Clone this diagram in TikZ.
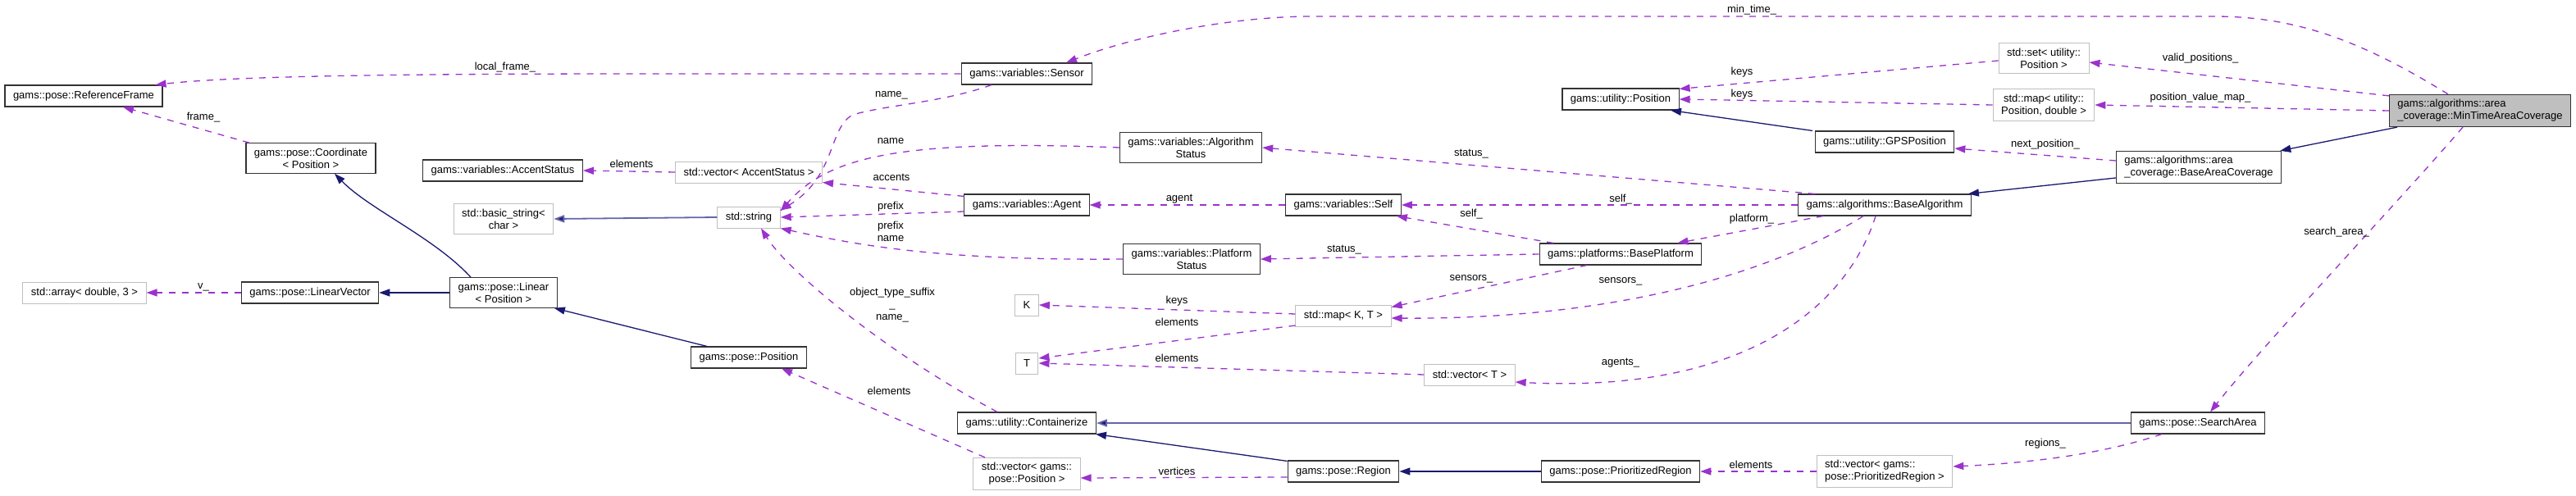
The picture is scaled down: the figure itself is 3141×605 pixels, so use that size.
\documentclass[tikz,border=0pt]{standalone}
\usepackage{fontspec}
\setmainfont{Liberation Sans}
\usetikzlibrary{positioning,arrows.meta}

\definecolor{usecol}{RGB}{154,50,205}
\definecolor{inhcol}{RGB}{25,25,112}
\definecolor{inhlight}{RGB}{100,100,172}
\definecolor{extcol}{RGB}{191,191,191}

\begin{document}
\begin{tikzpicture}[
    x=1pt, y=-1pt,
    cls/.style={draw=black!80, line width=1.1pt, fill=white, font=\fontsize{13}{15}\selectfont,
        inner xsep=10pt, inner ysep=6pt, minimum height=26pt, align=center},
    ext/.style={cls, draw=extcol, line width=1pt},
    focus/.style={cls, fill=extcol, align=left},
    lbl/.style={font=\fontsize{13}{15}\selectfont, inner sep=0pt, align=center},
    use/.style={draw=usecol, line width=1.3pt, dash pattern=on 8pt off 8pt,
        -{Triangle[length=13pt,width=9pt,fill=usecol]}},
    inh/.style={draw=inhcol, line width=1.3pt, -{Triangle[length=13pt,width=9pt,fill=inhcol]}},
    inhl/.style={inh, draw=inhlight, line width=1.8pt}
]
\path[use as bounding box, fill=white] (0,0) rectangle (3141,605);

% classes
\node[cls] (refframe) at (102,117) {gams::pose::ReferenceFrame};
\node[cls] (coord) at (379,193) {gams::pose::Coordinate\\< Position >};
\node[cls] (accstat) at (613,208) {gams::variables::AccentStatus};
\node[ext] (vecacc) at (913,210) {std::vector< AccentStatus >};
\node[ext] (bstring) at (614,267) {std::basic\_string<\\char >};
\node[ext] (string) at (913,265) {std::string};
\node[cls] (sensor) at (1252,90) {gams::variables::Sensor};
\node[cls] (algstat) at (1452,180) {gams::variables::Algorithm\\Status};
\node[cls] (agent) at (1252,250) {gams::variables::Agent};
\node[cls] (platstat) at (1453,316) {gams::variables::Platform\\Status};
\node[cls] (self) at (1638,250) {gams::variables::Self};
\node[cls] (upos) at (1976,121) {gams::utility::Position};
\node[cls] (gps) at (2298,173) {gams::utility::GPSPosition};
\node[cls] (basealg) at (2298,250) {gams::algorithms::BaseAlgorithm};
\node[cls] (baseplat) at (1976,310) {gams::platforms::BasePlatform};
\node[ext] (set) at (2492,71) {std::set< utility::\\Position >};
\node[ext] (pmap) at (2492,128) {std::map< utility::\\Position, double >};
\node[focus] (mintime) at (3024,135) {gams::algorithms::area\\\_coverage::MinTimeAreaCoverage};
\node[cls, align=left] (basecov) at (2681,204) {gams::algorithms::area\\\_coverage::BaseAreaCoverage};
\node[ext] (array) at (103,357) {std::array< double, 3 >};
\node[cls] (linvec) at (378,357) {gams::pose::LinearVector};
\node[cls] (linear) at (614,357) {gams::pose::Linear\\< Position >};
\node[cls] (ppos) at (913,436) {gams::pose::Position};
\node[ext] (K) at (1252,372) {K};
\node[ext] (T) at (1252,443) {T};
\node[ext] (mapkt) at (1638,385) {std::map< K, T >};
\node[ext] (vect) at (1792,457) {std::vector< T >};
\node[cls] (contain) at (1252,516) {gams::utility::Containerize};
\node[ext] (vecpos) at (1252,578) {std::vector< gams::\\pose::Position >};
\node[cls] (region) at (1638,575) {gams::pose::Region};
\node[cls] (pregion) at (1976,575) {gams::pose::PrioritizedRegion};
\node[ext, align=left] (vecpreg) at (2298,575) {std::vector< gams::\\pose::PrioritizedRegion >};
\node[cls] (search) at (2680,516) {gams::pose::SearchArea};

% inheritance
\draw[inhl] (string.west) -- (bstring.east);
\draw[inh] ([xshift=-88pt]gps.north) -- ([xshift=61pt]upos.south);
\draw[inh] ([xshift=10pt]mintime.south west) -- ([xshift=-2pt]basecov.north east);
\draw[inh] ([yshift=-13pt]basecov.west) -- ([xshift=-4pt]basealg.north east);
\draw[inhl] (search.west) -- (contain.east);
\draw[inh] (pregion.west) -- (region.east);
\draw[inh] ([yshift=-1pt]region.north west) -- ([xshift=-1pt]contain.south east);
\draw[inh] (linear.west) -- (linvec.east);
\draw[inh] ([xshift=-40pt]linear.north) .. controls (530,290) and (450,255) .. ([xshift=29pt]coord.south);
\draw[inh] ([xshift=-51pt]ppos.north) -- ([xshift=-4pt]linear.south east);

% members
\draw[use] (sensor.west) .. controls (700,90) and (330,88) .. ([xshift=-9pt]refframe.north east);
\draw[use] ([xshift=-75pt]coord.north) -- ([xshift=48pt]refframe.south);
\draw[use] (vecacc.west) -- (accstat.east);
\draw[use] ([xshift=-43pt]sensor.south) .. controls (1150,125) and (1080,128) .. (1040,140)
    .. controls (1010,155) and (1020,215) .. ([yshift=-5pt]string.north east);
\draw[use] (algstat.west) .. controls (1100,170) and (1010,190) .. ([yshift=-6pt]string.north east);
\draw[use] ([yshift=-3pt]agent.north west) -- ([yshift=1pt]vecacc.south east);
\draw[use] ([yshift=-8pt]agent.west) -- (string.east);
\draw[use] (platstat.west) .. controls (1150,318) and (1050,300) .. (string.south east);
\draw[use] ([xshift=-36pt]contain.north) .. controls (1080,430) and (960,330) .. ([xshift=15pt]string.south);
\draw[use] ([xshift=-51pt]vecpos.north) -- ([xshift=40pt]ppos.south);
\draw[use] (self.west) -- (agent.east);
\draw[use] ([xshift=-85pt]basealg.north) -- (algstat.east);
\draw[use] (basealg.west) -- (self.east);
\draw[use] ([xshift=-82pt]baseplat.north) -- ([xshift=-6pt]self.south east);
\draw[use] ([xshift=-75pt]basealg.south) -- ([xshift=-30pt]baseplat.north east);
\draw[use] (baseplat.west) -- (platstat.east);
\draw[use] ([yshift=-3pt]set.west) -- ([yshift=-1pt]upos.north east);
\draw[use] (pmap.west) -- (upos.east);
\draw[use] ([yshift=-2pt]mintime.north west) -- ([yshift=-5pt]set.east);
\draw[use] (mintime.west) -- (pmap.east);
\draw[use] ([xshift=-39pt]mintime.north) .. controls (2880,50) and (2800,20) .. (2700,20) -- (1600,20)
    .. controls (1500,20) and (1380,45) .. ([xshift=48pt]sensor.north);
\draw[use] ([yshift=8pt]basecov.west) -- ([yshift=-8pt]gps.east);
\draw[use] ([xshift=-21pt]mintime.south) .. controls (2930,240) and (2760,420) .. ([xshift=15pt]search.north);
\draw[use] ([xshift=-44pt]search.south) .. controls (2560,555) and (2470,565) .. ([yshift=6pt]vecpreg.east);
\draw[use] (vecpreg.west) -- (pregion.east);
\draw[use] ([yshift=-7pt]region.west) -- ([yshift=-5pt]vecpos.east);
\draw[use] ([yshift=2pt]mapkt.west) -- (K.east);
\draw[use] ([yshift=-12pt]mapkt.west) -- ([yshift=6pt]T.east);
\draw[use] (vect.west) -- (T.east);
\draw[use] ([xshift=-41pt]baseplat.south) -- ([yshift=-3pt]mapkt.north east);
\draw[use] ([xshift=-26pt]basealg.south) .. controls (2150,340) and (1950,390) .. ([yshift=-3pt]mapkt.east);
\draw[use] ([xshift=-11pt]basealg.south) .. controls (2250,380) and (2120,480) .. ([yshift=-9pt]vect.east);
\draw[use] (linvec.west) -- (array.east);

% member names
\node[lbl] (l-localframe) at (616,82) {local\_frame\_};
\node[lbl] (l-frame) at (248,143) {frame\_};
\node[lbl] (l-accelem) at (770,200) {elements};
\node[lbl] (l-v) at (248,350) {v\_};
\node[lbl] (l-sname) at (1087,116) {name\_};
\node[lbl] (l-aname) at (1086,172) {name};
\node[lbl] (l-accents) at (1087,216) {accents};
\node[lbl] (l-prefix) at (1086,252) {prefix};
\node[lbl] (l-pprefix) at (1086,282) {prefix\\name};
\node[lbl] (l-objtype) at (1088,372) {object\_type\_suffix\\\_\\name\_};
\node[lbl] (l-poselem) at (1084,477) {elements};
\node[lbl] (l-agent) at (1438,243) {agent};
\node[lbl] (l-keysK) at (1435,367) {keys};
\node[lbl] (l-elemT1) at (1435,393) {elements};
\node[lbl] (l-elemT2) at (1435,437) {elements};
\node[lbl] (l-vertices) at (1435,575) {vertices};
\node[lbl] (l-astatus) at (1794,188) {status\_};
\node[lbl] (l-aself) at (1976,243) {self\_};
\node[lbl] (l-pself) at (1794,261) {self\_};
\node[lbl] (l-platform) at (2136,267) {platform\_};
\node[lbl] (l-pstatus) at (1639,305) {status\_};
\node[lbl] (l-psensors) at (1794,340) {sensors\_};
\node[lbl] (l-asensors) at (1976,343) {sensors\_};
\node[lbl] (l-agents) at (1976,443) {agents\_};
\node[lbl] (l-pregelem) at (2135,567) {elements};
\node[lbl] (l-mintime) at (2136,12) {min\_time\_};
\node[lbl] (l-keys1) at (2124,88) {keys};
\node[lbl] (l-keys2) at (2124,115) {keys};
\node[lbl] (l-valid) at (2683,71) {valid\_positions\_};
\node[lbl] (l-pvmap) at (2683,119) {position\_value\_map\_};
\node[lbl] (l-next) at (2494,176) {next\_position\_};
\node[lbl] (l-search) at (2849,283) {search\_area\_};
\node[lbl] (l-regions) at (2494,541) {regions\_};
\end{tikzpicture}
\end{document}
